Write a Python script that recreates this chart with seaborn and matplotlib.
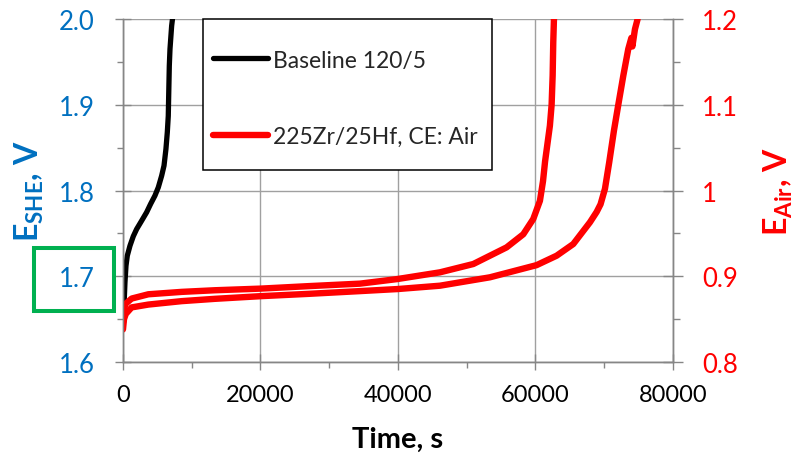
import numpy as np
import pandas as pd
import matplotlib
matplotlib.use("Agg")
import matplotlib.pyplot as plt
from matplotlib.ticker import MultipleLocator
from matplotlib.patches import Rectangle
from matplotlib.transforms import blended_transform_factory
import seaborn as sns

sns.set_style("white")
plt.rcParams["font.family"] = ["Lato", "DejaVu Sans"]
plt.rcParams["mathtext.fontset"] = "custom"
plt.rcParams["mathtext.rm"] = "Lato"
plt.rcParams["mathtext.it"] = "Lato:italic"
plt.rcParams["mathtext.bf"] = "Lato:bold"

# ---- data -------------------------------------------------------------
# Baseline 120/5, potential vs SHE (left axis)
t_base = [0, 145, 190, 290, 440, 630, 1020, 1500, 1990, 2720, 3440, 4020,
          4650, 5140, 5630, 5970, 6250, 6450, 6590, 6640, 6690, 6740, 6840,
          7080, 7200]
e_base = [1.664, 1.666, 1.6735, 1.693, 1.7123, 1.724, 1.7356, 1.7466, 1.755,
          1.7648, 1.7746, 1.7843, 1.794, 1.8037, 1.8173, 1.829, 1.8484, 1.868,
          1.887, 1.9067, 1.926, 1.9455, 1.965, 1.992, 2.0]

# 225Zr/25Hf with air counter electrode, potential vs air (right axis), two runs
t_air_1 = [0, 150, 400, 1260, 3690, 8540, 13380, 20030, 27000, 34470, 39950,
           46110, 50960, 55800, 58230, 59680, 60650, 61100, 61400, 62100,
           62350, 62500, 62590, 62690]
e_air_1 = [0.846, 0.862, 0.868, 0.874, 0.879, 0.8818, 0.8837, 0.8856, 0.8885,
           0.8914, 0.8968, 0.9046, 0.9143, 0.9337, 0.949, 0.9668, 0.988, 1.011,
           1.034, 1.0756, 1.1, 1.134, 1.173, 1.2]

t_air_2 = [0, 150, 400, 1260, 3690, 8540, 13380, 20030, 27000, 34470, 39950,
           46110, 53380, 60170, 63080, 65500, 67930, 68900, 69470, 70110,
           70730, 71420, 72050, 72780, 73500, 73950, 74100, 74470, 74860]
e_air_2 = [0.838, 0.850, 0.856, 0.8637, 0.867, 0.871, 0.8737, 0.8768, 0.8795,
           0.8827, 0.8851, 0.889, 0.8988, 0.913, 0.924, 0.9376, 0.963, 0.975,
           0.984, 1.002, 1.033, 1.07, 1.1, 1.134, 1.165, 1.178, 1.168, 1.188,
           1.2]

series_labels = ["Baseline 120/5", "225Zr/25Hf, CE: Air"]

x_ticks = [0, 20000, 40000, 60000, 80000]
x_tick_labels = ["0", "20000", "40000", "60000", "80000"]
left_ticks = [1.6, 1.7, 1.8, 1.9, 2.0]
left_tick_labels = ["1.6", "1.7", "1.8", "1.9", "2.0"]
right_ticks = [0.8, 0.9, 1.0, 1.1, 1.2]
right_tick_labels = ["0.8", "0.9", "1", "1.1", "1.2"]

df_base = pd.DataFrame({"t": t_base, "E": e_base})
df_air = pd.concat([
    pd.DataFrame({"t": t_air_1, "E": e_air_1, "run": 1}),
    pd.DataFrame({"t": t_air_2, "E": e_air_2, "run": 2}),
], ignore_index=True)

# ---- styling ----------------------------------------------------------
BLUE = "#0070C0"
RED = "#FF0000"
GREEN = "#00B050"
AXIS_GRAY = "#868686"
GRID_GRAY = "#A0A0A0"
X_TICK_FS = 17
Y_TICK_FS = 18.5
LEG_FS = 16.5

fig = plt.figure(figsize=(7.98, 4.56), dpi=100)
ax1 = fig.add_axes([0.1541, 0.2039, 0.6892, 0.7522])
ax2 = ax1.twinx()

sns.lineplot(data=df_base, x="t", y="E", ax=ax1, color="black", lw=3.8,
             sort=False, estimator=None)
sns.lineplot(data=df_air, x="t", y="E", units="run", ax=ax2, color=RED,
             lw=4.6, sort=False, estimator=None)

ax1.set_xlim(0, 80000)
ax1.set_ylim(1.6, 2.0)
ax2.set_ylim(0.8, 1.2)

ax1.set_xticks(x_ticks)
ax1.set_xticklabels(x_tick_labels)
ax1.set_yticks(left_ticks)
ax1.set_yticklabels(left_tick_labels)
ax2.set_yticks(right_ticks)
ax2.set_yticklabels(right_tick_labels)
ax1.xaxis.set_minor_locator(MultipleLocator(10000))
ax1.yaxis.set_minor_locator(MultipleLocator(0.05))
ax2.yaxis.set_minor_locator(MultipleLocator(0.05))

ax1.grid(True, which="major", color=GRID_GRAY, lw=1.0)
ax1.set_axisbelow(True)

for ax in (ax1, ax2):
    for side, sp in ax.spines.items():
        sp.set_color(AXIS_GRAY)
        sp.set_linewidth(1.0)
    ax.spines["top"].set_visible(False)

ax1.tick_params(axis="x", which="major", direction="inout", length=12,
                width=1, color=AXIS_GRAY, labelcolor="black",
                labelsize=X_TICK_FS, pad=10, bottom=True)
ax1.tick_params(axis="x", which="minor", direction="out", length=4.5,
                width=1, color=AXIS_GRAY, bottom=True)
ax1.tick_params(axis="y", which="major", direction="inout", length=12,
                width=1, color=AXIS_GRAY, labelcolor=BLUE,
                labelsize=Y_TICK_FS, pad=14.5, left=True)
ax1.tick_params(axis="y", which="minor", direction="out", length=4.5,
                width=1, color=AXIS_GRAY, left=True)
ax2.tick_params(axis="y", which="major", direction="inout", length=14,
                width=1, color=AXIS_GRAY, labelcolor=RED,
                labelsize=Y_TICK_FS, pad=14, right=True)
ax2.tick_params(axis="y", which="minor", direction="out", length=5,
                width=1, color=AXIS_GRAY, right=True)

ax1.set_xlabel("Time, s", fontsize=21, fontweight="bold", color="black")
ax1.xaxis.set_label_coords(0.5, -0.185)
ax1.set_ylabel(r"$\mathbf{E_{SHE}}$, V", fontsize=23, fontweight="bold",
               color=BLUE)
ax1.yaxis.set_label_coords(-0.14, 0.5)
ax2.set_ylabel(r"$\mathbf{E_{Air}}$, V", fontsize=23, fontweight="bold",
               color=RED)
ax2.yaxis.set_label_coords(1.162, 0.5)

# highlight box around the 1.7 V label
box_tr = blended_transform_factory(ax1.transAxes, ax1.transData)
ax1.add_patch(Rectangle((-0.1622, 1.6595), 0.1455, 0.0738, transform=box_tr,
                        fill=False, ec=GREEN, lw=2.9, clip_on=False,
                        zorder=10))

# legend: square white panel with the entries spread over it
ax2.add_patch(Rectangle((0.1455, 0.5598), 0.5254, 0.4402,
                        transform=ax2.transAxes, facecolor="white",
                        edgecolor="black", lw=1.1, clip_on=False, zorder=4))
leg = ax2.legend([ax1.lines[0], ax2.lines[0]], series_labels,
                 loc="upper left", bbox_to_anchor=(0.1636, 0.9111),
                 borderaxespad=0, borderpad=0, fontsize=LEG_FS,
                 frameon=False, labelspacing=2.41, handlelength=2.4,
                 handletextpad=0.2)
leg.set_zorder(6)
for h in leg.get_lines():
    h.set_solid_capstyle("round")

fig.savefig("out.png", dpi=100)
